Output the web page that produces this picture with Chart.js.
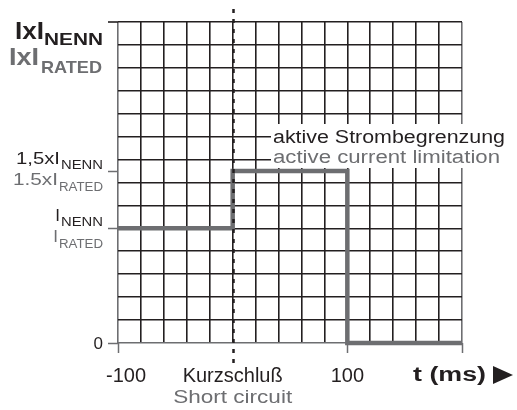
<!DOCTYPE html>
<html>
<head>
<meta charset="utf-8">
<script src="https://cdn.jsdelivr.net/npm/chart.js@4"></script>
<style>
html, body { margin: 0; padding: 0; background: #fff; }
#wrap { width: 517px; height: 410px; }
</style>
</head>
<body>
<div id="wrap"><canvas id="chart" width="517" height="410"></canvas></div>
<script>
// data
const timeMs = [-100, 0, 100, 200];
const current = [5, 7.5, 0, 0];          // in grid units, I_NENN = 5
const xMin = -100, xMax = 200, xStep = 20;
const yMin = 0, yMax = 14, yStep = 1;
const shortCircuitAt = 0;

const xLabelValues = [-100, 0, 100];
const xLabelsDe = ['-100', 'Kurzschluß', '100'];
const xLabelsEn = ['', 'Short circuit', ''];
const xTickMarks = [-100, 100, 200];

const yLabelValues = [7.5, 5];
const yLabelsDe = [['1,5xI', 'NENN'], ['I', 'NENN']];
const yLabelsEn = [['1.5xI', 'RATED'], ['I', 'RATED']];
const yTickMarks = [0, 5, 7.5];

const BLACK = '#231f20';
const GREY = '#6d6e71';
const FONT = '"Liberation Sans", Arial, sans-serif';

function txt(ctx, s, x, y, font, color, align, w) {
    ctx.save();
    ctx.font = font;
    ctx.fillStyle = color;
    ctx.textBaseline = 'alphabetic';
    ctx.textAlign = align;
    const m = ctx.measureText(s).width;
    ctx.translate(x, y);
    if (w) ctx.scale(w / m, 1);
    ctx.fillText(s, 0, 0);
    ctx.restore();
}

const decorations = {
    id: 'decorations',
    afterDraw(chart) {
        const ctx = chart.ctx;
        const xs = chart.scales.x, ys = chart.scales.y;
        const left = xs.left, bottom = ys.bottom;

        // top line extends left
        ctx.save();
        ctx.strokeStyle = BLACK;
        ctx.lineWidth = 1.6;
        ctx.beginPath();
        ctx.moveTo(left - 10, ys.getPixelForValue(yMax));
        ctx.lineTo(left, ys.getPixelForValue(yMax));
        ctx.stroke();

        // tick marks
        ctx.strokeStyle = GREY;
        ctx.lineWidth = 1.5;
        yTickMarks.forEach(v => {
            const y = Math.round(ys.getPixelForValue(v)) + 0.5;
            ctx.beginPath();
            ctx.moveTo(left - 10, y);
            ctx.lineTo(left, y);
            ctx.stroke();
        });
        xTickMarks.forEach(v => {
            const x = Math.round(xs.getPixelForValue(v)) + 0.5;
            ctx.beginPath();
            ctx.moveTo(x, bottom);
            ctx.lineTo(x, bottom + 10);
            ctx.stroke();
        });

        // short circuit line
        const xc = Math.round(xs.getPixelForValue(shortCircuitAt)) + 0.5;
        ctx.strokeStyle = BLACK;
        ctx.lineWidth = 2.5;
        ctx.setLineDash([4, 6]);
        ctx.beginPath();
        ctx.moveTo(xc, 9);
        ctx.lineTo(xc, 366);
        ctx.stroke();
        ctx.setLineDash([]);

        // annotation box
        ctx.fillStyle = '#fff';
        ctx.fillRect(271, 124, 245, 44);
        ctx.restore();
        txt(ctx, 'aktive Strombegrenzung', 273, 143, '18px ' + FONT, BLACK, 'left', 232);
        txt(ctx, 'active current limitation', 273, 163, '18px ' + FONT, GREY, 'left', 227);

        // title
        txt(ctx, 'IxI', 15, 39, 'bold 23px ' + FONT, BLACK, 'left', 29);
        txt(ctx, 'NENN', 44, 45, 'bold 17px ' + FONT, BLACK, 'left', 59);
        txt(ctx, 'IxI', 9, 65, 'bold 23px ' + FONT, GREY, 'left', 30);
        txt(ctx, 'RATED', 41, 73, 'bold 17px ' + FONT, GREY, 'left', 61);

        // y labels
        yLabelValues.forEach((v, i) => {
            const y = ys.getPixelForValue(v);
            const de = yLabelsDe[i], en = yLabelsEn[i];
            txt(ctx, de[1], 103, y - 2, '12px ' + FONT, BLACK, 'right', 42);
            txt(ctx, de[0], 60, y - 7, '17px ' + FONT, BLACK, 'right', de[0].length > 1 ? 44 : null);
            txt(ctx, en[1], 103, y + 20, '12px ' + FONT, GREY, 'right', 44);
            txt(ctx, en[0], 58, y + 14, '17px ' + FONT, GREY, 'right', en[0].length > 1 ? 45 : null);
        });
        txt(ctx, '0', 103, ys.getPixelForValue(0) + 6, '17px ' + FONT, BLACK, 'right');

        // x labels
        xLabelValues.forEach((v, i) => {
            let x = xs.getPixelForValue(v);
            if (v === -100) x += 8;
            txt(ctx, xLabelsDe[i], x, 382, '20px ' + FONT, BLACK, 'center');
            if (xLabelsEn[i]) txt(ctx, xLabelsEn[i], x, 403, '19px ' + FONT, GREY, 'center', 119);
        });
        txt(ctx, 't (ms)', 413, 381, 'bold 20px ' + FONT, BLACK, 'left', 73);
        ctx.save();
        ctx.fillStyle = BLACK;
        ctx.beginPath();
        ctx.moveTo(493, 366);
        ctx.lineTo(513, 375);
        ctx.lineTo(493, 384);
        ctx.closePath();
        ctx.fill();
        ctx.restore();
    }
};

const ctx = document.getElementById('chart').getContext('2d');
new Chart(ctx, {
    type: 'line',
    data: {
        datasets: [{
            data: timeMs.map((t, i) => ({ x: t, y: current[i] })),
            stepped: true,
            borderColor: GREY,
            borderWidth: 4.5,
            pointRadius: 0,
            fill: false,
            clip: false
        }]
    },
    options: {
        responsive: false,
        animation: false,
        layout: { padding: { left: 118, right: 55, top: 22, bottom: 67 } },
        plugins: { legend: { display: false }, tooltip: { enabled: false } },
        scales: {
            x: {
                type: 'linear', min: xMin, max: xMax,
                ticks: { stepSize: xStep, display: false },
                border: { display: false },
                grid: {
                    drawTicks: false,
                    lineWidth: 1.6,
                    color: c => (c.tick.value === xMin || c.tick.value === xMax) ? GREY : BLACK
                }
            },
            y: {
                type: 'linear', min: yMin, max: yMax,
                ticks: { stepSize: yStep, display: false },
                border: { display: false },
                grid: {
                    drawTicks: false,
                    lineWidth: 1.6,
                    color: c => c.tick.value === yMin ? GREY : BLACK
                }
            }
        }
    },
    plugins: [decorations]
});
</script>
</body>
</html>
